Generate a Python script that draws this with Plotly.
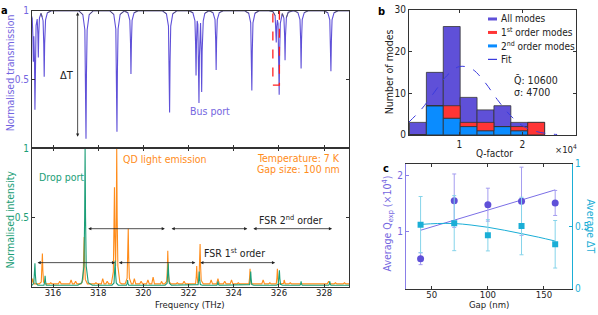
import numpy as np
import plotly.graph_objects as go

# ---------------- data ----------------
# Panel a (top): bus-port transmission dips: centre frequency (THz) and minimum transmission
dip_freq = [315.13, 315.20, 315.35, 315.61, 317.46, 318.83, 319.45, 321.16, 322.33,
            322.46, 322.58, 323.22, 324.80, 325.88, 326.01, 326.27, 326.98, 328.30]
dip_min = [0.63, 0.28, 0.66, 0.52, 0.07, 0.12, 0.54, 0.26, 0.53,
           0.33, 0.41, 0.57, 0.42, 0.77, 0.39, 0.64, 0.58, 0.56]

# Panel a (bottom): drop-port peaks
drop_freq = [315.20, 315.65, 317.42, 318.75, 319.30, 321.10, 322.47, 323.30, 324.75, 326.02, 326.98, 328.25]
drop_int = [0.17, 0.08, 1.00, 0.19, 0.05, 0.17, 0.11, 0.04, 0.11, 0.12, 0.04, 0.04]

# Panel a (bottom): QD light emission peaks
qd_freq = [315.53, 317.38, 318.72, 318.82, 319.33, 321.08, 322.36, 322.51, 324.72, 325.93, 326.23]
qd_int = [0.24, 0.36, 0.72, 1.00, 0.42, 0.26, 0.15, 0.31, 0.13, 0.13, 0.05]
# small background features of the QD emission
qd_bg_freq = [315.10, 315.90, 316.30, 316.80, 317.00, 317.90, 318.20, 318.40, 319.60, 319.90,
              320.20, 320.43, 320.80, 321.50, 321.80, 323.00, 323.30, 323.60, 323.90, 324.20,
              325.30, 325.60, 326.50, 327.40, 328.20, 328.50, 328.90]
qd_bg_int = [0.06, 0.03, 0.04, 0.05, 0.04, 0.03, 0.06, 0.04, 0.06, 0.04,
             0.05, 0.07, 0.04, 0.03, 0.04, 0.05, 0.06, 0.04, 0.05, 0.03,
             0.05, 0.03, 0.03, 0.02, 0.04, 0.03, 0.03]

freq_ticks = [316, 318, 320, 322, 324, 326, 328]

# FSR arrows (THz) and their levels
fsr1_start = [315.25, 318.85, 322.45]
fsr1_end = [318.75, 322.30, 325.83]
fsr1_level = 0.175
fsr2_start = [317.49, 321.18, 324.80]
fsr2_end = [320.95, 324.60, 328.35]
fsr2_level = 0.42

# Panel b: histogram of Q-factors
q_bin_center = [3420, 6100, 8780, 11460, 14140, 16820, 19500, 22180]
q_bin_width = 2680
all_modes = [3, 15, 26, 9, 6, 7, 3, 3]
second_order = [0, 7, 4, 2, 1, 2, 1, 0]
first_order = [0, 0, 3, 1, 2, 0, 1, 3]
fit_q = [2000, 4000, 6000, 8000, 10000, 12000, 14000, 16000, 18000, 20000, 22000, 24000, 25500]
fit_n = [3.1, 6.2, 10.2, 14.2, 16.4, 15.8, 12.7, 8.5, 4.8, 2.2, 0.9, 0.3, 0.1]

# Panel c
gap = [40, 70, 100, 130, 160]
q_avg = [0.53, 1.55, 1.48, 1.54, 1.51]
q_err = [0.105, 0.47, 0.29, 0.60, 0.22]
dt_avg = [0.513, 0.525, 0.428, 0.502, 0.356]
dt_err = [0.225, 0.22, 0.125, 0.23, 0.19]
q_fit_gap = [40, 160]
q_fit = [1.03, 1.74]
dt_fit_gap = [40, 55, 70, 85, 100, 115, 130, 145, 160]
dt_fit = [0.515, 0.522, 0.522, 0.51, 0.492, 0.468, 0.441, 0.413, 0.382]

# ---------------- styles ----------------
W, H = 598, 315
FONT = "DejaVu Sans Condensed, DejaVu Sans, sans-serif"
PURPLE = "#5f50d8"
PURPLE_T = "#7466e0"
GREEN = "#1b9e77"
ORANGE = "#ff8c1a"
CYAN = "#1aaed6"
RED = "#ff3535"
BLUE = "#0a8cff"
AX = "#333333"

# line-shape templates (offset in THz, fraction of feature height)
LINE_OFF = np.array([-0.32, -0.14, -0.05, -0.02, 0.0, 0.02, 0.05, 0.14, 0.32])
LINE_FRAC = np.array([0.0, 0.03, 0.15, 0.5, 1.0, 0.5, 0.15, 0.03, 0.0])
BG_OFF = np.array([-0.06, 0.0, 0.06])
BG_FRAC = np.array([0.0, 1.0, 0.0])
X0, X1 = 315.07, 329.1


def envelope(centres, heights, off, frac, extra_x=()):
    xs = [X0, X1] + list(extra_x)
    for c in centres:
        xs += list(c + off)
    xs = np.unique(np.array(xs))
    ys = np.zeros_like(xs)
    for c, h in zip(centres, heights):
        ys = np.maximum(ys, np.interp(xs, c + off, frac * h, left=0, right=0))
    return xs, ys


def px(x):
    return x / W


def py(y):
    return 1 - y / H


fig = go.Figure()

# ---- panel a top: transmission ----
tx, td = envelope(dip_freq, [1 - d for d in dip_min], LINE_OFF, LINE_FRAC)
ty = 1 - td
fig.add_trace(go.Scatter(x=tx, y=ty, mode="lines", line=dict(color=PURPLE, width=1.1),
                         xaxis="x2", yaxis="y2", showlegend=False, hoverinfo="skip"))
gy = np.where(ty >= 0.95, ty, None)
fig.add_trace(go.Scatter(x=tx, y=gy, mode="lines", line=dict(color="#555555", width=0.8),
                         xaxis="x2", yaxis="y2", showlegend=False, hoverinfo="skip", connectgaps=False))

# ---- panel a bottom: QD emission and drop port ----
qx, qy = envelope(qd_freq, qd_int, LINE_OFF, LINE_FRAC)
bx, by = envelope(qd_bg_freq, qd_bg_int, BG_OFF, BG_FRAC)
allx = np.unique(np.concatenate([qx, bx]))
ally = np.maximum(np.interp(allx, qx, qy), np.interp(allx, bx, by))
ally = np.maximum(ally, 0.022)
fig.add_trace(go.Scatter(x=allx, y=ally, mode="lines", line=dict(color=ORANGE, width=1.1),
                         xaxis="x", yaxis="y", showlegend=False, hoverinfo="skip"))
dx, dy = envelope(drop_freq, drop_int, LINE_OFF, LINE_FRAC)
dy = np.maximum(dy, 0.012)
fig.add_trace(go.Scatter(x=dx, y=dy, mode="lines", line=dict(color=GREEN, width=1.1),
                         xaxis="x", yaxis="y", showlegend=False, hoverinfo="skip"))

# ---- panel b: histogram ----
fig.add_trace(go.Bar(x=q_bin_center, y=all_modes, width=q_bin_width, marker=dict(color=PURPLE, line=dict(color=AX, width=0.8)),
                     xaxis="x3", yaxis="y3", showlegend=False, hoverinfo="skip"))
fig.add_trace(go.Bar(x=q_bin_center, y=second_order, width=q_bin_width, marker=dict(color=BLUE, line=dict(color=AX, width=0.8)),
                     xaxis="x3", yaxis="y3", showlegend=False, hoverinfo="skip"))
fig.add_trace(go.Bar(x=q_bin_center, y=first_order, base=second_order, width=q_bin_width,
                     marker=dict(color=RED, line=dict(color=AX, width=0.8)),
                     xaxis="x3", yaxis="y3", showlegend=False, hoverinfo="skip"))
fig.add_trace(go.Scatter(x=fit_q, y=fit_n, mode="lines", line=dict(color="#3b3bdd", width=1, dash="dash", shape="spline"),
                         xaxis="x3", yaxis="y3", showlegend=False, hoverinfo="skip"))

# ---- panel c ----
fig.add_trace(go.Scatter(x=q_fit_gap, y=q_fit, mode="lines", line=dict(color="#7b6fe6", width=1),
                         xaxis="x4", yaxis="y4", showlegend=False, hoverinfo="skip"))
fig.add_trace(go.Scatter(x=gap, y=q_avg, mode="markers",
                         error_y=dict(type="data", array=q_err, color="#a59df0", thickness=1, width=2),
                         marker=dict(color=PURPLE, size=7, symbol="circle"),
                         xaxis="x4", yaxis="y4", showlegend=False, hoverinfo="skip"))
fig.add_trace(go.Scatter(x=dt_fit_gap, y=dt_fit, mode="lines", line=dict(color=CYAN, width=1, shape="spline"),
                         xaxis="x4", yaxis="y5", showlegend=False, hoverinfo="skip"))
fig.add_trace(go.Scatter(x=gap, y=dt_avg, mode="markers",
                         error_y=dict(type="data", array=dt_err, color="#86d4ea", thickness=1, width=2),
                         marker=dict(color=CYAN, size=6, symbol="square"),
                         xaxis="x4", yaxis="y5", showlegend=False, hoverinfo="skip"))

tickfont = dict(family=FONT, size=10, color="#222")
common = dict(showline=True, linecolor=AX, linewidth=1, ticks="inside", ticklen=3, tickcolor=AX,
              showgrid=False, zeroline=False, tickfont=tickfont)
bottom_x = {**common, "tickfont": dict(family=FONT, size=9.5, color="#222")}

layout = dict(
    width=W, height=H, margin=dict(l=0, r=0, t=0, b=0),
    paper_bgcolor="white", plot_bgcolor="white",
    font=dict(family=FONT, size=10, color="#222"),
    barmode="overlay", bargap=0, hovermode=False,
    xaxis=dict(domain=[px(32), px(349)], range=[X0, X1], anchor="y", tickvals=freq_ticks,
               mirror="ticks", ticklabelstandoff=-3, **bottom_x),
    yaxis=dict(domain=[py(292), py(148)], range=[0, 1.0], anchor="x", tickvals=[0.5, 1],
               ticktext=["0.5", "1"], mirror="ticks",
               **{**common, "tickfont": dict(family=FONT, size=10, color=GREEN)}),
    xaxis2=dict(domain=[px(32), px(349)], range=[X0, X1], anchor="y2", matches="x",
                showticklabels=False, tickvals=freq_ticks, mirror="ticks", **common),
    yaxis2=dict(domain=[py(148), py(5)], range=[0, 1.0], anchor="x2", tickvals=[0.5, 1],
                ticktext=["0.5", "1"], mirror="ticks",
                **{**common, "tickfont": dict(family=FONT, size=10, color=PURPLE_T)}),
    xaxis3=dict(domain=[px(409), px(576)], range=[2000, 28500], anchor="y3", tickvals=[10000, 20000],
                ticktext=["1", "2"], mirror="ticks", **common),
    yaxis3=dict(domain=[py(134), py(4)], range=[0, 30], anchor="x3", tickvals=[0, 10, 20, 30],
                mirror="ticks", **common),
    xaxis4=dict(domain=[px(406), px(572)], range=[27, 175], anchor="y4", tickvals=[50, 100, 150],
                mirror="ticks", ticklabelstandoff=-3, **bottom_x),
    yaxis4=dict(domain=[py(294), py(164)], range=[0, 2.2], anchor="x4", tickvals=[1, 2],
                **{**common, "linecolor": "#8a7fe8", "tickcolor": "#8a7fe8",
                   "tickfont": dict(family=FONT, size=10, color=PURPLE_T)}),
    yaxis5=dict(domain=[py(294), py(164)], range=[0, 1], anchor="x4", overlaying="y4", side="right",
                tickvals=[0, 0.5, 1], ticktext=["0", "0.5", "1"],
                **{**common, "linecolor": CYAN, "tickcolor": CYAN,
                   "tickfont": dict(family=FONT, size=10, color=CYAN)}),
)
fig.update_layout(**layout)

ann = []


def ptext(text, x, y, size=10.5, color="#222", angle=0, xanchor="center", bold=False):
    ann.append(dict(text=f"<b>{text}</b>" if bold else text, x=px(x), y=py(y), xref="paper", yref="paper",
                    showarrow=False, textangle=angle, xanchor=xanchor, yanchor="middle",
                    font=dict(family=FONT, size=size, color=color)))


def dtext(text, x, y, xr, yr, size=10.5, color="#222", xanchor="center"):
    ann.append(dict(text=text, x=x, y=y, xref=xr, yref=yr, showarrow=False, xanchor=xanchor,
                    yanchor="middle", font=dict(family=FONT, size=size, color=color)))


def darrow(x0, y0, x1, y1, xr, yr):
    ann.append(dict(text="", x=x1, y=y1, ax=x0, ay=y0, xref=xr, yref=yr, axref=xr, ayref=yr,
                    showarrow=True, arrowhead=2, arrowside="end+start", arrowsize=0.8,
                    arrowwidth=0.8, arrowcolor="#222", standoff=0, startstandoff=0))


# panel labels
ptext("a", 4, 5, size=11, color="#000", bold=True)
ptext("b", 381, 6, size=11, color="#000", bold=True)
ptext("c", 386, 169, size=11, color="#000", bold=True)
# axis titles
ptext("Frequency (THz)", 190, 310, size=9.5)
ptext("Gap (nm)", 489, 310, size=9.5)
ptext("Normalised transmission", 10, 70, color=PURPLE_T, angle=-90)
ptext("Normalised intensity", 10, 222, color=GREEN, angle=-90)
ptext("Number of modes", 389, 69, angle=-90)
ptext("Q-factor", 494, 153, size=10)
ptext("×10<sup>4</sup>", 566, 149, size=9.5)
ptext("Average Q<sub>exp</sub> (×10<sup>4</sup>)", 388, 226, color=PURPLE_T, angle=-90)
ptext("Average ΔT", 591, 229, color=CYAN, angle=90)

# panel a annotations
dtext("ΔT", 316.62, 0.53, "x2", "y2", size=11)
darrow(317.09, 1.0, 317.09, 0.085, "x2", "y2")
dtext("Bus port", 322.93, 0.275, "x2", "y2", color=PURPLE_T)
dtext("Drop port", 315.29, 0.79, "x", "y", color=GREEN, xanchor="left")
dtext("QD light emission", 319.01, 0.92, "x", "y", color=ORANGE, xanchor="left")
dtext("Temperature: 7 K", 328.78, 0.93, "x", "y", color=ORANGE, xanchor="right")
dtext("Gap size: 100 nm", 328.78, 0.85, "x", "y", color=ORANGE, xanchor="right")
dtext("FSR 1<sup>st</sup> order", 324.04, 0.245, "x", "y")
dtext("FSR 2<sup>nd</sup> order", 326.54, 0.49, "x", "y")
for s, e in zip(fsr1_start, fsr1_end):
    darrow(s, fsr1_level, e, fsr1_level, "x", "y")
for s, e in zip(fsr2_start, fsr2_end):
    darrow(s, fsr2_level, e, fsr2_level, "x", "y")

# panel b text
ptext("Q\u0304: 10600", 511.5, 77, xanchor="left")
ptext("σ: 4700", 511.5, 89, xanchor="left")

# panel b legend (glyphs + labels)
legend_items = [("All modes", PURPLE, "solid"), ("1<sup>st</sup> order modes", RED, "solid"),
                ("2<sup>nd</sup> order modes", BLUE, "solid"), ("Fit", "#3b3bdd", "dash")]
shapes = []
for i, (lab, col, dash) in enumerate(legend_items):
    yy = 13.5 + i * 14
    ptext(lab, 499, yy, size=10, xanchor="left")
    shapes.append(dict(type="line", xref="paper", yref="paper", x0=px(488), x1=px(497), y0=py(yy), y1=py(yy),
                       line=dict(color=col, width=3 if dash == "solid" else 1.2, dash=dash)))

# red dashed rectangle in panel a
shapes.append(dict(type="rect", xref="x2", yref="y2", x0=325.73, x1=326.02, y0=0.46, y1=1.0,
                   line=dict(color="#ff2020", width=1.3, dash="dash")))

fig.update_layout(annotations=ann, shapes=shapes)
fig.write_html("out.html", config={"displayModeBar": False, "staticPlot": True},
               post_script="document.body.style.margin='0';document.body.style.overflow='hidden';")
